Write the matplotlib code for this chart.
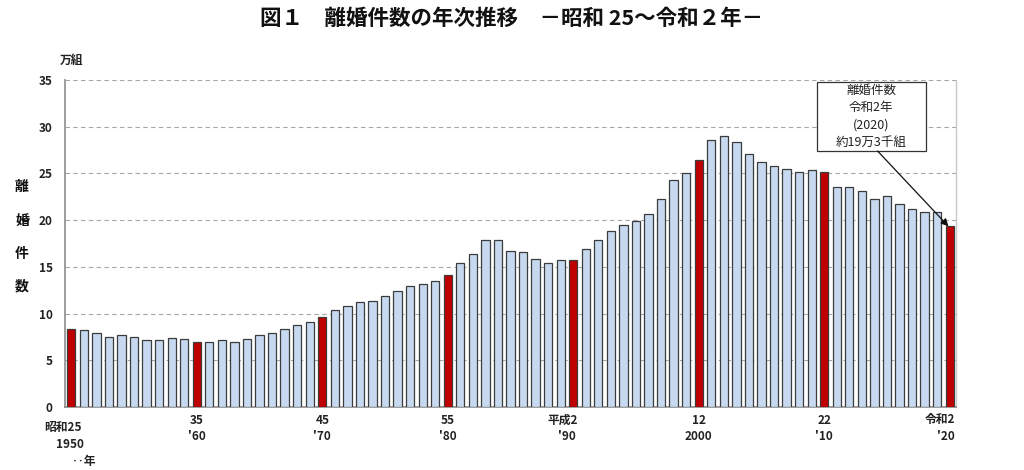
import matplotlib
matplotlib.use("Agg")
import matplotlib.pyplot as plt
import matplotlib.transforms as mtransforms
from matplotlib.patches import Rectangle

plt.rcParams['font.family'] = ['Noto Sans CJK JP', 'DejaVu Sans']

years = list(range(1950, 2021))
divorces = [8.37, 8.23, 7.90, 7.53, 7.68, 7.53, 7.20, 7.17, 7.40, 7.25,
            6.94, 6.93, 7.14, 7.00, 7.23, 7.72, 7.94, 8.35, 8.73, 9.13,
            9.59, 10.36, 10.84, 11.19, 11.36, 11.91, 12.45, 12.95, 13.21, 13.53,
            14.17, 15.42, 16.40, 17.92, 17.87, 16.66, 16.61, 15.82, 15.36, 15.78,
            15.76, 16.90, 17.92, 18.83, 19.51, 19.90, 20.70, 22.26, 24.32, 25.05,
            26.42, 28.59, 28.98, 28.39, 27.08, 26.19, 25.75, 25.48, 25.11, 25.34,
            25.14, 23.57, 23.54, 23.14, 22.21, 22.62, 21.69, 21.23, 20.83, 20.85,
            19.33]
highlight_years = [1950, 1960, 1970, 1980, 1990, 2000, 2010, 2020]
era_labels = ["昭和25", "35", "45", "55", "平成2", "12", "22", "令和2"]
west_labels = ["1950", "'60", "'70", "'80", "'90", "2000", "'10", "'20"]
yticks = [0, 5, 10, 15, 20, 25, 30, 35]

title = "図１　離婚件数の年次推移　－昭和 25～令和２年－"
ylabel_chars = ["離", "婚", "件", "数"]
note_lines = ["離婚件数", "令和2年", "(2020)", "約19万3千組"]

fig = plt.figure(figsize=(10.24, 4.70), dpi=100)
ax = fig.add_axes([65/1024, 1-407/470, (956-65)/1024, (407-80)/470])

xs = list(range(len(years)))
colors = ['#C00000' if y in highlight_years else '#C6D9F1' for y in years]
ax.bar(xs, divorces, width=0.66, color=colors, edgecolor='#3C3C3C',
       linewidth=0.9, zorder=3)

ax.set_xlim(-0.5, len(years) - 0.5)
ax.set_ylim(0, 35)
ax.set_yticks(yticks)
ax.set_yticklabels([str(v) for v in yticks], fontsize=8.5, fontweight='bold',
                   color='#222222')
ax.tick_params(axis='y', length=0, pad=9)
ax.set_xticks([])
ax.grid(axis='y', linestyle=(0, (4, 3)), color='#A6A6A6', linewidth=0.8, zorder=0)
ax.set_axisbelow(True)
for s in ['left', 'bottom']:
    ax.spines[s].set_color('#8C8C8C')
    ax.spines[s].set_linewidth(1.2)
ax.spines['right'].set_color('#C8C8C8')
ax.spines['right'].set_linewidth(1.0)
ax.spines['top'].set_visible(False)

# x labels (two rows)
trans = mtransforms.blended_transform_factory(ax.transData, fig.transFigure)
lab_kw = dict(transform=trans, va='center', fontsize=8.5, fontweight='bold',
              color='#222222')
for yr, e, w in zip(highlight_years, era_labels, west_labels):
    i = years.index(yr)
    if yr == 1950:
        ax.text(i - 0.7, 1 - 427/470, e, ha='center', **lab_kw)
        ax.text(i - 0.1, 1 - 445/470, w, ha='center', **lab_kw)
        ax.text(i + 1.0, 1 - 461/470, "‥年", ha='center', **lab_kw)
    elif yr == 2020:
        ax.text(i + 0.45, 1 - 420/470, e, ha='right', **lab_kw)
        ax.text(i + 0.4, 1 - 437/470, w, ha='right', **lab_kw)
    elif yr == 1990:
        ax.text(i - 0.85, 1 - 420/470, e, ha='center', **lab_kw)
        ax.text(i - 0.5, 1 - 437/470, w, ha='center', **lab_kw)
    else:
        ax.text(i, 1 - 420/470, e, ha='center', **lab_kw)
        ax.text(i, 1 - 437/470, w, ha='center', **lab_kw)

# title
fig.text(0.5, 1 - 18/470, title, ha='center', va='center', fontsize=15.5,
         fontweight='bold', color='#111111')

# unit
fig.text(72/1024, 1 - 60/470, "万組", ha='center', va='center', fontsize=8.5,
         fontweight='bold', color='#222222')

# vertical y label
for ch, yp in zip(ylabel_chars, [187, 221, 254, 287]):
    fig.text(22/1024, 1 - yp/470, ch, ha='center', va='center', fontsize=10,
             fontweight='bold', color='#111111')

# annotation box (positions in data units)
box_x0, box_x1 = 59.4, 68.07
box_y0, box_y1 = 27.40, 34.79
ax.add_patch(Rectangle((box_x0, box_y0), box_x1 - box_x0, box_y1 - box_y0,
                       facecolor='white', edgecolor='#333333', lw=0.9, zorder=5))
ax.text((box_x0 + box_x1) / 2, (box_y0 + box_y1) / 2, "\n".join(note_lines),
        ha='center', va='center', fontsize=9, color='#222222',
        linespacing=1.45, zorder=6)
i20 = years.index(2020)
ax.annotate("", xy=(i20 - 0.1, divorces[-1]), xytext=(64.25, box_y0),
            arrowprops=dict(arrowstyle='-|>', color='#111111', lw=0.9,
                            shrinkA=0, shrinkB=0, mutation_scale=11),
            zorder=6)

fig.savefig("out.png", dpi=100, facecolor='white')
